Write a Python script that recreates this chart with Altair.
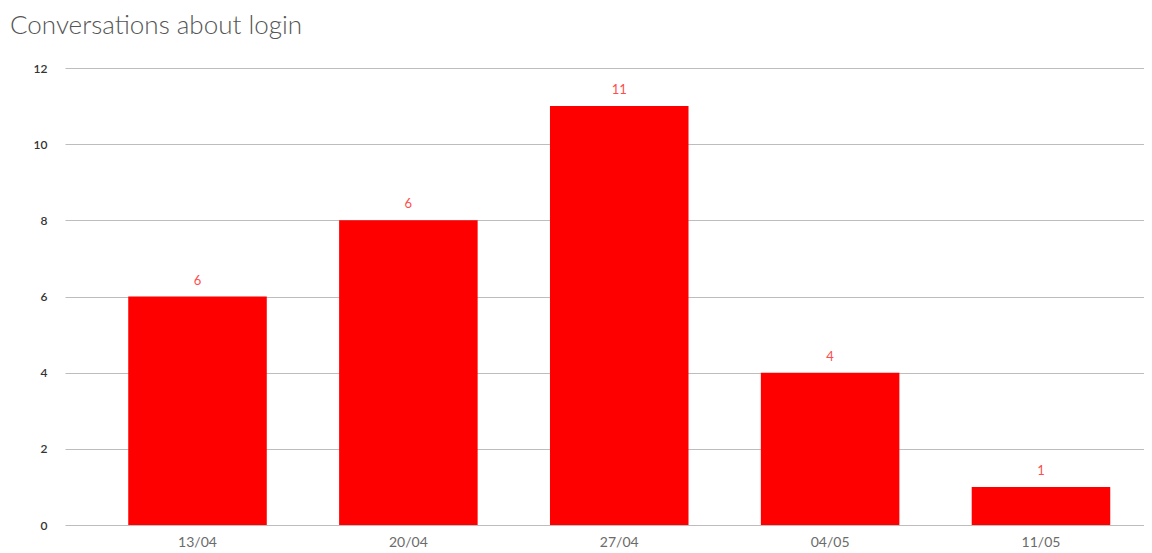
import altair as alt
import pandas as pd

weeks = ["13/04", "20/04", "27/04", "04/05", "11/05"]
counts = [6, 8, 11, 4, 1]
labels = ["6", "6", "11", "4", "1"]
y_ticks = [0, 2, 4, 6, 8, 10, 12]

df = pd.DataFrame({"week": weeks, "count": counts, "label": labels})

FONT = "Lato"

x = alt.X(
    "week:N",
    sort=weeks,
    scale=alt.Scale(paddingInner=0.343, paddingOuter=0.23, align=0.652),
    axis=alt.Axis(
        title=None, labelAngle=0, domain=False, ticks=False, grid=False,
        labelColor="#6b6b6b", labelFontSize=14, labelPadding=10, labelFont=FONT,
    ),
)
y = alt.Y(
    "count:Q",
    scale=alt.Scale(domain=[0, 12], nice=False),
    axis=alt.Axis(
        title=None, values=y_ticks, domain=False, ticks=False,
        labelColor="#333333", labelFontSize=12, labelFontWeight=600, labelPadding=18,
        labelFont=FONT, gridColor="#bdbdbd", gridWidth=1,
    ),
)

bars = alt.Chart(df).mark_bar(color="#ff0000").encode(x=x, y=y)
text = alt.Chart(df).mark_text(color="#ff4d4d", fontSize=13, dy=-16, font=FONT).encode(
    x=x, y="count:Q", text="label:N"
)

chart = (
    alt.layer(bars, text)
    .properties(
        width=1079,
        height=457,
        autosize=alt.AutoSizeParams(type="none"),
        padding={"left": 57, "top": 60, "right": 0, "bottom": 26},
        title=alt.TitleParams(
            "Conversations about login", anchor="start", frame="group",
            dx=-55, offset=23, font=FONT, fontSize=26, fontWeight=300, color="#555555",
        ),
    )
    .configure_view(stroke=None)
)

chart.save("out.html", embed_options={"renderer": "svg", "actions": False})
